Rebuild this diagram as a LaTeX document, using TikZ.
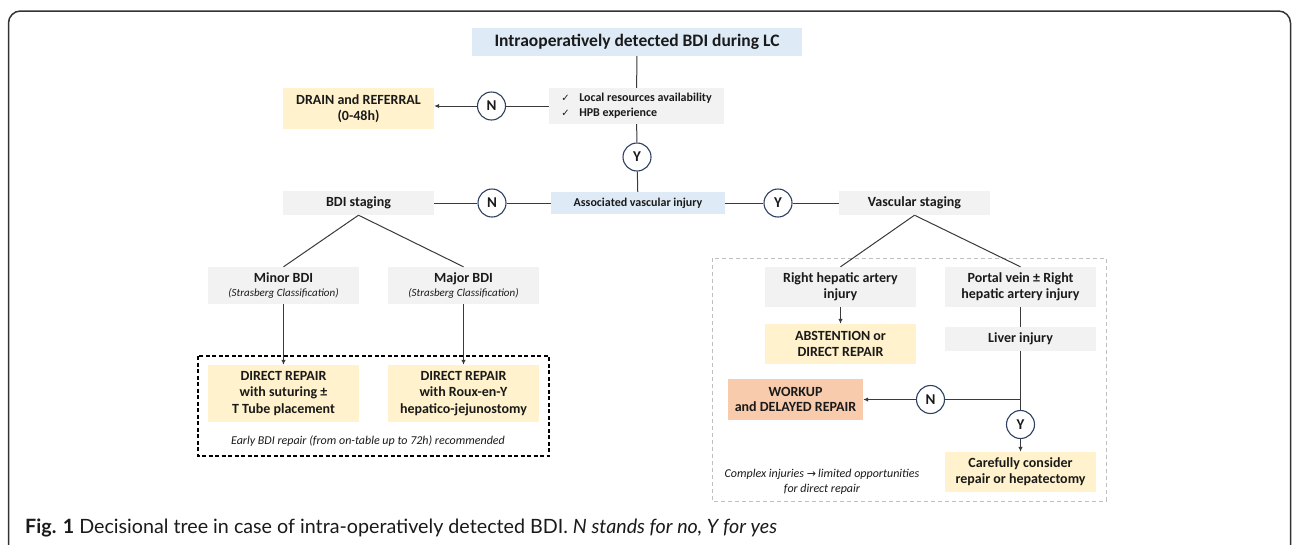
\documentclass[tikz,border=0pt]{standalone}
\usepackage{fontspec}
\setmainfont{Carlito}
\newfontfamily\dejavu{DejaVu Sans}
\newfontfamily\capfont{Lato}
\usetikzlibrary{arrows.meta}
\definecolor{bluebg}{HTML}{DEEBF7}
\definecolor{graybg}{HTML}{F2F2F2}
\definecolor{yellowbg}{HTML}{FFF2CC}
\definecolor{salmonbg}{HTML}{F8CBAD}
\definecolor{circ}{HTML}{2F4060}
\definecolor{lin}{HTML}{3A3A3A}
\definecolor{txt}{HTML}{1A1A1A}
\definecolor{framec}{HTML}{333333}
\definecolor{dgray}{HTML}{BFBFBF}
\tikzset{
  box/.style={inner sep=0pt, align=center, text=txt, font=\bfseries\fontsize{14}{16}\selectfont},
  gbox/.style={box, fill=graybg},
  ybox/.style={box, fill=yellowbg},
  bbox/.style={box, fill=bluebg},
  sbox/.style={box, fill=salmonbg},
  dec/.style={circle, draw=circ, line width=1.1pt, fill=white, minimum size=28pt, inner sep=0pt, font=\bfseries\fontsize{15}{15}\selectfont, text=txt},
  con/.style={draw=lin, line width=1pt},
  arr/.style={con, -{Latex[length=5pt,width=4.5pt]}},
  note/.style={inner sep=0pt, align=center, text=txt, font=\itshape\fontsize{12}{15}\selectfont},
}
\newcommand\ckm{\makebox[18pt][l]{\dejavu\fontsize{10}{8}\selectfont ✓}}
\begin{document}
\begin{tikzpicture}[x=1pt,y=-1pt]
\useasboundingbox (0,0) rectangle (1292,544);
\fill[white] (0,0) rectangle (1292,544);
\draw[framec, line width=1.5pt, rounded corners=12pt] (8.5,560) -- (8.5,11) -- (1290.5,11) -- (1290.5,560);

% top part
\node[bbox, minimum width=330pt, minimum height=28pt, font=\bfseries\fontsize{17.5}{20}\selectfont] (title) at (637,42) {Intraoperatively detected BDI during LC};
\node[gbox, minimum width=175pt, minimum height=36pt, align=left, font=\bfseries\fontsize{12}{15}\selectfont] (local) at (636.5,106) {\ckm Local resources availability\\\ckm HPB experience};
\node[dec] (nTop) at (491.5,106) {N};
\node[ybox, minimum width=151pt, minimum height=41pt] (drain) at (358.5,108.5) {DRAIN and REFERRAL\\(0-48h)};
\node[dec] (yTop) at (637,157) {Y};

% middle row
\node[bbox, minimum width=174pt, minimum height=22pt, font=\bfseries\fontsize{12}{14}\selectfont] (assoc) at (638,203) {Associated vascular injury};
\node[dec] (nMid) at (492,203) {N};
\node[dec] (yMid) at (778,203) {Y};
\node[gbox, minimum width=151pt, minimum height=24pt] (bdi) at (358.5,203) {BDI staging};
\node[gbox, minimum width=151pt, minimum height=24pt] (vas) at (914.5,203) {Vascular staging};

% left branch
\node[gbox, minimum width=151pt, minimum height=37pt, font=\bfseries\fontsize{14}{14}\selectfont] (minor) at (283.5,285.5) {Minor BDI\\{\mdseries\itshape\fontsize{11}{13}\selectfont (Strasberg Classification)}};
\node[gbox, minimum width=151pt, minimum height=37pt, font=\bfseries\fontsize{14}{14}\selectfont] (major) at (463.5,285.5) {Major BDI\\{\mdseries\itshape\fontsize{11}{13}\selectfont (Strasberg Classification)}};
\draw[black, line width=1.1pt, dash pattern=on 4pt off 2.5pt] (198,356) rectangle (549,456);
\node[ybox, minimum width=151pt, minimum height=57pt, font=\bfseries\fontsize{14}{16.5}\selectfont] (rep1) at (283.5,393.5) {DIRECT REPAIR\\with suturing ±\\T Tube placement};
\node[ybox, minimum width=151pt, minimum height=57pt, font=\bfseries\fontsize{14}{16.5}\selectfont] (rep2) at (463.5,393.5) {DIRECT REPAIR\\with Roux-en-Y\\hepatico-jejunostomy};
\node[note] (early) at (368,441) {Early BDI repair (from on-table up to 72h) recommended};

% right branch
\draw[dgray, line width=1pt, dash pattern=on 4pt off 3pt] (712,258) rectangle (1106,501);
\node[gbox, minimum width=151pt, minimum height=40pt] (rha) at (840.5,287) {Right hepatic artery\\injury};
\node[gbox, minimum width=151pt, minimum height=40pt] (pv) at (1020.5,287) {Portal vein ± Right\\hepatic artery injury};
\node[ybox, minimum width=151pt, minimum height=40pt] (abst) at (840.5,344) {ABSTENTION or\\DIRECT REPAIR};
\node[gbox, minimum width=151pt, minimum height=24pt] (liver) at (1020.5,339) {Liver injury};
\node[sbox, minimum width=135pt, minimum height=41pt, font=\bfseries\fontsize{14}{15.5}\selectfont] (workup) at (795.5,399.5) {WORKUP\\and DELAYED REPAIR};
\node[dec] (nLow) at (930.5,399.5) {N};
\node[dec] (yLow) at (1020.5,424.5) {Y};
\node[ybox, minimum width=151pt, minimum height=40pt] (care) at (1020.5,472) {Carefully consider\\repair or hepatectomy};
\node[note] (complex) at (822,481.5) {Complex injuries {\upshape\dejavu\fontsize{11}{10}\selectfont →}\,limited opportunities\\for direct repair};

% connectors
\draw[con] (title) -- (local);
\draw[con] (local.west) -- (nTop);
\draw[arr] (nTop.west) -- (nTop.west -| drain.east);
\draw[con] (local) -- (yTop);
\draw[con] (yTop) -- (assoc);
\draw[con] (assoc) -- (nMid);
\draw[con] (nMid) -- (bdi);
\draw[con] (assoc) -- (yMid);
\draw[con] (yMid) -- (vas);
\draw[con] (bdi.south) -- (minor.north);
\draw[con] (bdi.south) -- (major.north);
\draw[con] (vas.south) -- (rha.north);
\draw[con] (vas.south) -- (pv.north);
\draw[arr] (minor) -- (rep1);
\draw[arr] (major) -- (rep2);
\draw[arr] (rha) -- (abst);
\draw[con] (pv) -- (liver);
\coordinate (jn) at (liver.south |- nLow);
\draw[con] (liver.south) -- (jn) -- (nLow);
\draw[arr] (nLow) -- (workup);
\draw[con] (jn) -- (yLow);
\draw[arr] (yLow) -- (care);

% caption
\node[anchor=base west, inner sep=0pt, text=txt, font=\capfont\fontsize{19.7}{22}\selectfont] (cap) at (25,533) {\textbf{Fig. 1} Decisional tree in case of intra-operatively detected BDI. \textit{N stands for no, Y for yes}};
\end{tikzpicture}
\end{document}
